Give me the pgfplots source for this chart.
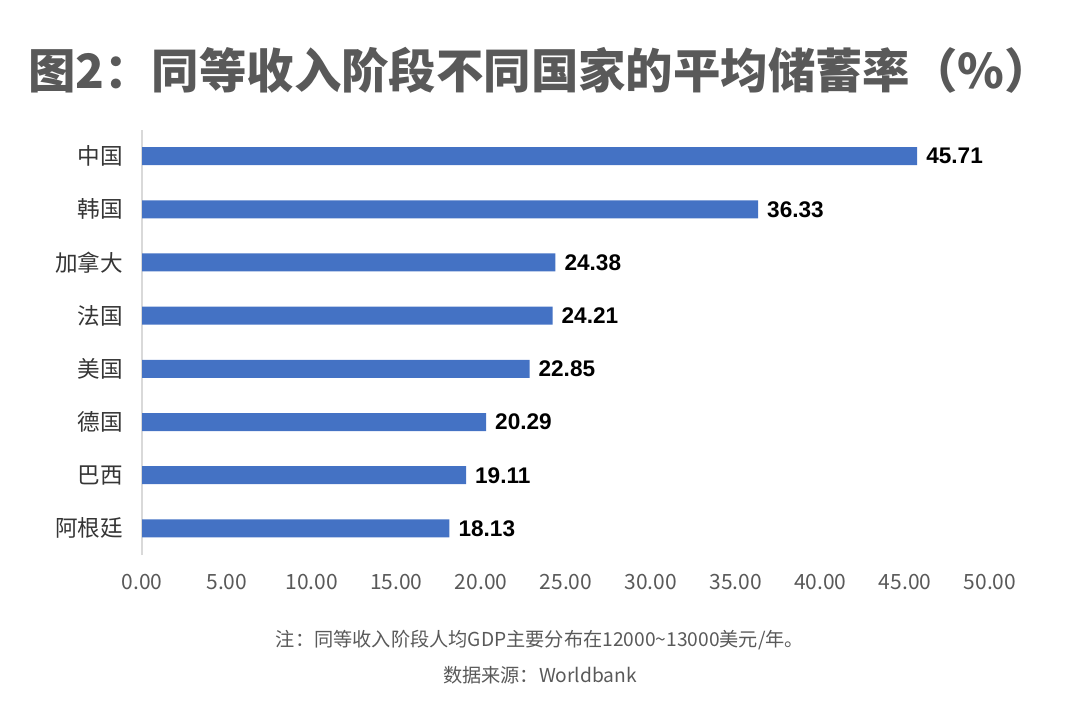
\documentclass[border=0pt]{standalone}
\usepackage{fontspec}
\usepackage{pgfplots}
\pgfplotsset{compat=1.18}
\setmainfont{Noto Sans CJK SC}
\newfontfamily\cjk{Noto Sans CJK SC}
\newfontfamily\valfont{Liberation Sans}
\definecolor{barblue}{HTML}{4472C4}
\definecolor{titlegray}{HTML}{595959}
\definecolor{axgray}{HTML}{D9D9D9}
\begin{document}
\begin{tikzpicture}[x=1pt,y=1pt]
\useasboundingbox (0,0) rectangle (540,360);
\node[font=\cjk\bfseries\fontsize{23.7}{28}\selectfont, text=titlegray] at (270,325) {图2：同等收入阶段不同国家的平均储蓄率（\%）};
\begin{axis}[
    at={(71pt,82.5pt)}, anchor=south west,
    scale only axis,
    width=424pt, height=212.75pt,
    xbar, bar width=9pt,
    xmin=0, xmax=50,
    ymin=-0.5, ymax=7.5,
    xtick={0,5,...,50},
    ytick={0,...,7},
    yticklabels={阿根廷,巴西,德国,美国,法国,加拿大,韩国,中国},
    axis lines*=left,
    axis line style={-},
    x axis line style={draw=none},
    y axis line style={draw=axgray, line width=0.6pt},
    major tick length=0pt,
    xticklabel style={font=\fontsize{10.5}{12}\selectfont, text=titlegray, yshift=-6pt},
    yticklabel style={font=\fontsize{11.3}{13}\selectfont, text=titlegray!60!black, xshift=-6pt},
    /pgf/number format/.cd, fixed, fixed zerofill, precision=2, assume math mode=true,
    /pgfplots/.cd,
    nodes near coords,
    nodes near coords style={font=\valfont\bfseries\fontsize{11.3}{13}\selectfont, text=black, anchor=west, xshift=1pt},
]
\addplot[fill=barblue, draw=none] coordinates {(18.13,0) (19.11,1) (20.29,2) (22.85,3) (24.21,4) (24.38,5) (36.33,6) (45.71,7)};
\end{axis}
\node[font=\fontsize{9.6}{11}\selectfont, text=titlegray] at (270,40) {注：同等收入阶段人均GDP主要分布在12000\textasciitilde13000美元/年。};
\node[font=\fontsize{9.6}{11}\selectfont, text=titlegray] at (270,22.5) {数据来源：Worldbank};
\end{tikzpicture}
\end{document}
